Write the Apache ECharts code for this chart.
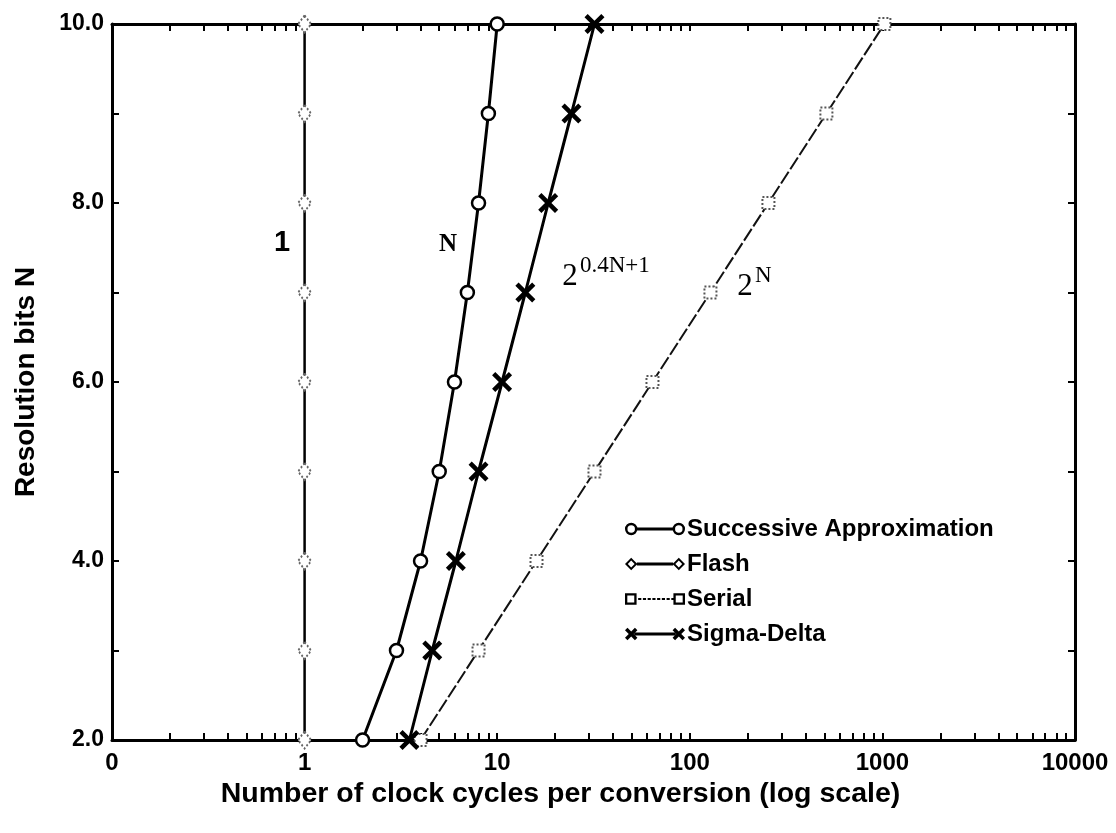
<!DOCTYPE html>
<html><head><meta charset="utf-8">
<script src="https://cdn.jsdelivr.net/npm/echarts@6/dist/echarts.min.js"></script>
<style>html,body{margin:0;padding:0;background:#fff}#c{width:1116px;height:833px}</style>
</head><body><div id="c"></div>
<script>
// ---- data ----
const bits = [2, 3, 4, 5, 6, 7, 8, 9, 10];
const successiveApprox = [2, 3, 4, 5, 6, 7, 8, 9, 10];
const flash = [1, 1, 1, 1, 1, 1, 1, 1, 1];
const serial = [4, 8, 16, 32, 64, 128, 256, 512, 1024];
const sigmaDelta = [3.5, 4.6, 6.1, 8, 10.6, 14, 18.4, 24.3, 32];
const xDecades = [0.1, 1, 10, 100, 1000, 10000];
const xTickLabels = ['0', '1', '10', '100', '1000', '10000'];
const seriesNames = ['Successive Approximation', 'Flash', 'Serial', 'Sigma-Delta'];

const SANS = '"Liberation Sans", Arial, Helvetica, sans-serif';
const SERIF = '"Liberation Serif", "Times New Roman", serif';

const minorTicks = [];
xDecades.slice(0, -1).forEach(d => { for (let k = 1; k <= 9; k++) minorTicks.push(+(d * k).toPrecision(6)); });
minorTicks.push(xDecades[xDecades.length - 1]);

function pairs(xs) { return bits.map((n, i) => [xs[i], n]); }
function xLabel(v) {
  const i = xDecades.findIndex(d => Math.abs(Math.log10(d) - Math.log10(v)) < 1e-6);
  return i >= 0 ? xTickLabels[i] : '';
}

// ---- symbol / legend icon shapes ----
function crossPts(cx, cy, h, t) {
  const p = [[cx - h, cy - h + t], [cx - h + t, cy - h], [cx, cy - t], [cx + h - t, cy - h], [cx + h, cy - h + t], [cx + t, cy],
             [cx + h, cy + h - t], [cx + h - t, cy + h], [cx, cy + t], [cx - h + t, cy + h], [cx - h, cy + h - t], [cx - t, cy]];
  return 'M' + p.map(q => q[0] + ',' + q[1]).join(' L') + ' Z ';
}
const CROSS = 'path://' + crossPts(10, 10, 10, 3.2);
function ring(cx, cy, r1, r2) {
  return `M${cx - r1},${cy} A${r1},${r1} 0 1,1 ${cx + r1},${cy} A${r1},${r1} 0 1,1 ${cx - r1},${cy} Z ` +
         `M${cx - r2},${cy} A${r2},${r2} 0 1,0 ${cx + r2},${cy} A${r2},${r2} 0 1,0 ${cx - r2},${cy} Z `;
}
function bar(x1, x2, y, h) { return `M${x1},${y - h / 2} L${x2},${y - h / 2} L${x2},${y + h / 2} L${x1},${y + h / 2} Z `; }
function diamond(cx, cy, w, hh, w2, h2) {
  return `M${cx},${cy - hh} L${cx + w},${cy} L${cx},${cy + hh} L${cx - w},${cy} Z ` +
         `M${cx},${cy - h2} L${cx - w2},${cy} L${cx},${cy + h2} L${cx + w2},${cy} Z `;
}
function square(cx, cy, s, s2) {
  return `M${cx - s},${cy - s} L${cx + s},${cy - s} L${cx + s},${cy + s} L${cx - s},${cy + s} Z ` +
         `M${cx - s2},${cy - s2} L${cx - s2},${cy + s2} L${cx + s2},${cy + s2} L${cx + s2},${cy - s2} Z `;
}
let dots = '';
for (let x = 13; x < 45; x += 4.5) dots += bar(x, x + 3, 7, 1.8);
const ICONS = {
  'Successive Approximation': 'path://' + ring(6, 7, 6, 3.6) + ring(52, 7, 6, 3.6) + bar(11.6, 46.4, 7, 2.8),
  'Flash': 'path://' + diamond(6, 7, 6, 6, 3.3, 3.3) + diamond(52, 7, 6, 6, 3.3, 3.3) + bar(11.5, 46.5, 7, 2.8),
  'Serial': 'path://' + square(6, 7, 5.5, 3.3) + square(52, 7, 5.5, 3.3) + dots,
  'Sigma-Delta': 'path://' + crossPts(6, 7, 6, 2.4) + crossPts(52, 7, 6, 2.4) + bar(9, 49, 7, 2.8)
};

const tickStyle = { show: true, inside: true, length: 7, lineStyle: { color: '#000', width: 2 } };
const lineAxis = { show: true, lineStyle: { color: '#000', width: 3 } };

const xBase = {
  type: 'log', logBase: 10, min: xDecades[0], max: xDecades[xDecades.length - 1],
  axisLine: lineAxis, splitLine: { show: false },
  axisTick: Object.assign({}, tickStyle, { customValues: minorTicks }),
  minorTick: { show: false }
};
const yBase = {
  type: 'value', min: 2, max: 10, interval: 1,
  axisLine: lineAxis, splitLine: { show: false }, axisTick: tickStyle
};

const option = {
  animation: false,
  backgroundColor: '#fff',
  grid: { left: 112, right: 41, top: 24, bottom: 93 },
  xAxis: [
    Object.assign({}, xBase, {
      position: 'bottom',
      axisLabel: { formatter: xLabel, color: '#000', fontSize: 24, fontWeight: 'bold', fontFamily: SANS, margin: 11, showMinLabel: true, showMaxLabel: true },
      name: 'Number of clock cycles per conversion (log scale)', nameLocation: 'middle', nameGap: 36,
      nameTextStyle: { color: '#000', fontSize: 28.5, fontWeight: 'bold', fontFamily: SANS, padding: [0, 66, 0, 0] }
    }),
    Object.assign({}, xBase, { position: 'top', axisLabel: { show: false } })
  ],
  yAxis: [
    Object.assign({}, yBase, {
      position: 'left',
      axisLabel: { formatter: v => (v % 2 === 0 ? v.toFixed(1) : ''), color: '#000', fontSize: 23, fontWeight: 'bold', fontFamily: SANS, margin: 8 },
      name: 'Resolution bits N', nameLocation: 'middle', nameGap: 72,
      nameTextStyle: { color: '#000', fontSize: 28, fontWeight: 'bold', fontFamily: SANS }
    }),
    Object.assign({}, yBase, { position: 'right', axisLabel: { show: false } })
  ],
  legend: {
    orient: 'vertical', left: 620, top: 512, itemGap: 11, itemWidth: 60, itemHeight: 13,
    symbolKeepAspect: true,
    data: seriesNames.map(n => ({ name: n, icon: ICONS[n], itemStyle: { color: '#000', borderWidth: 0, opacity: 1 } })),
    textStyle: { color: '#000', fontSize: 24, fontWeight: 'bold', fontFamily: SANS, padding: [0, 0, 0, -3] }
  },
  series: [
    {
      name: seriesNames[1], type: 'line', data: pairs(flash), z: 3,
      symbol: 'diamond', symbolSize: [13, 17],
      lineStyle: { color: '#000', width: 2.5 },
      itemStyle: { color: '#fff', borderColor: '#666', borderWidth: 2, borderType: [2, 2] }
    },
    {
      name: seriesNames[2], type: 'line', data: pairs(serial), z: 3,
      symbol: 'rect', symbolSize: 12,
      lineStyle: { color: '#111', width: 2, type: [14, 3] },
      itemStyle: { color: '#fff', borderColor: '#555', borderWidth: 2, borderType: [2, 2] }
    },
    {
      name: seriesNames[3], type: 'line', data: pairs(sigmaDelta), z: 4,
      symbol: CROSS, symbolSize: 20,
      lineStyle: { color: '#000', width: 3 },
      itemStyle: { color: '#000' }
    },
    {
      name: seriesNames[0], type: 'line', data: pairs(successiveApprox), z: 5,
      symbol: 'circle', symbolSize: 13,
      lineStyle: { color: '#000', width: 3 },
      itemStyle: { color: '#fff', borderColor: '#000', borderWidth: 2.5 }
    }
  ],
  graphic: [
    { type: 'text', x: 282, y: 243, style: { text: '1', font: 'bold 29px ' + SANS, fill: '#000', textAlign: 'center', textVerticalAlign: 'middle' } },
    { type: 'text', x: 448, y: 245, style: { text: 'N', font: 'bold 25px ' + SERIF, fill: '#000', textAlign: 'center', textVerticalAlign: 'middle' } },
    { type: 'text', x: 570, y: 277, style: { text: '2', font: '31px ' + SERIF, fill: '#000', textAlign: 'center', textVerticalAlign: 'middle' } },
    { type: 'text', x: 580, y: 266, style: { text: '0.4N+1', font: '23px ' + SERIF, fill: '#000', textAlign: 'left', textVerticalAlign: 'middle' } },
    { type: 'text', x: 745, y: 287, style: { text: '2', font: '31px ' + SERIF, fill: '#000', textAlign: 'center', textVerticalAlign: 'middle' } },
    { type: 'text', x: 755, y: 276, style: { text: 'N', font: '23px ' + SERIF, fill: '#000', textAlign: 'left', textVerticalAlign: 'middle' } }
  ]
};

const chart = echarts.init(document.getElementById('c'), null, { renderer: 'canvas' });
chart.setOption(option);
</script>
</body></html>
